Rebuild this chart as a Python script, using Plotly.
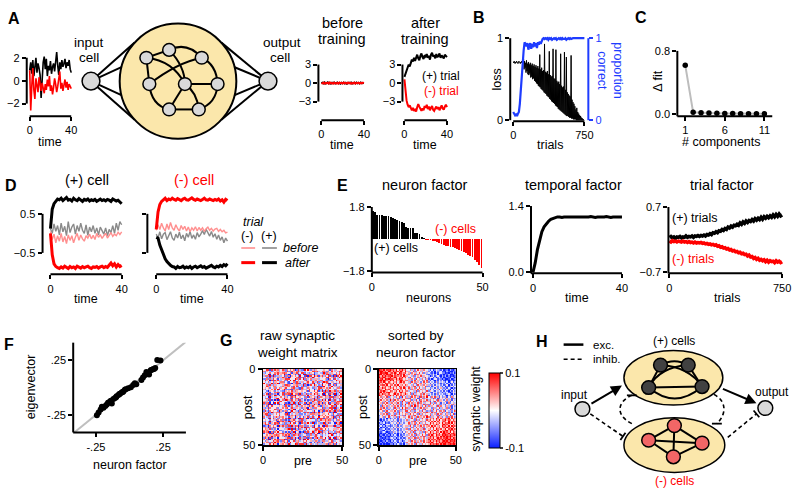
import math
import numpy as np
import plotly.graph_objects as go

# ===================== DATA =====================
time_steps = list(range(41))

# Panel A - input cell traces
a_input_pos = [0.9, 1.6, 0.6, 1.8, 0.4, 1.2, 2.0, 0.7, 1.5, 1.1, 0.5, -1.5, 0.3, 1.6, 2.1, 1.0, 1.9, 0.4, 1.3, 0.9,
               1.7, 0.6, 1.2, 1.5, 0.8, 1.9, 2.5, 1.3, 0.5, 1.6, 1.0, 1.8, 1.2, 1.5, 1.9, 1.1, 1.6, 1.3, 1.8, 1.0, 0.7]
a_input_neg = [0.9, -2.6, -0.5, 1.1, -0.8, -1.6, 0.2, -0.6, -1.0, 0.3, -0.4, -0.9, -0.2, -0.7, -1.1, -0.3, -0.8, 0.1, -0.5, 0.4,
               -0.9, -0.4, -1.2, -0.6, 0.2, -0.3, -1.0, -0.5, 0.0, 0.8, -0.7, -0.2, -0.9, -0.4, 0.1, -0.6, -0.1, -0.8, -0.3, -0.5, -0.7]
# Panel A - output before / after training
a_before_pos = [0.0, 0.08, -0.05, 0.1, -0.08, 0.05, 0.12, -0.06, 0.03, -0.1, 0.07, -0.02, 0.09, -0.07, 0.04, 0.1, -0.05, 0.02, -0.09, 0.06,
                -0.03, 0.08, -0.06, 0.05, -0.1, 0.03, 0.07, -0.04, 0.09, -0.08, 0.02, 0.06, -0.05, 0.1, -0.03, 0.04, -0.07, 0.08, -0.02, 0.05, 0.0]
a_before_neg = [0.0, -0.06, 0.09, -0.1, 0.04, -0.03, 0.07, -0.08, 0.1, -0.04, 0.02, -0.09, 0.06, 0.0, -0.07, 0.05, -0.1, 0.08, -0.02, 0.04,
                -0.06, 0.09, -0.05, 0.03, -0.08, 0.1, -0.03, 0.06, -0.09, 0.02, -0.05, 0.07, -0.1, 0.04, -0.02, 0.08, -0.06, 0.03, -0.04, 0.06, -0.02]
a_after_pos = [1.0, 1.6, 2.2, 2.4, 3.0, 2.7, 3.3, 3.8, 3.5, 4.1, 3.6, 4.3, 4.6, 4.0, 3.7, 4.4, 4.8, 4.2, 3.9, 4.5,
               4.3, 4.7, 4.1, 4.4, 3.8, 4.6, 4.9, 4.3, 4.5, 4.0, 4.7, 4.2, 4.4, 4.8, 4.1, 4.5, 4.3, 4.0, 4.6, 4.4, 4.2]
a_after_neg = [0.6, -1.5, -2.8, -3.5, -3.9, -3.6, -4.2, -4.4, -4.0, -4.5, -4.3, -4.6, -3.9, -3.4, -3.8, -4.2, -4.5, -4.1, -4.4, -3.7,
               -4.0, -3.5, -4.2, -3.8, -4.4, -4.0, -3.7, -4.3, -4.5, -4.1, -3.8, -4.2, -3.9, -4.4, -4.0, -3.6, -4.1, -4.3, -3.8, -3.5, -3.9]

# Panel B - training
loss_trials = list(range(0, 750, 5))
loss = [0.71, 0.70, 0.72, 0.70, 0.69, 0.71, 0.70, 0.72, 0.70, 0.71, 0.69, 0.70, 0.72, 0.71, 0.70, 0.69, 0.71, 0.70, 0.72, 0.70, 0.71, 0.70,
        0.74, 0.62, 0.72, 0.64, 0.70, 0.58, 0.73, 0.60, 0.69, 0.56, 0.71, 0.55, 0.68, 0.57, 0.70, 0.52, 0.67, 0.53, 0.69, 0.50,
        0.66, 0.51, 0.68, 0.48, 0.65, 0.47, 0.67, 0.45, 0.64, 0.44, 0.66, 0.42, 0.63, 0.41, 0.80, 0.40, 0.62, 0.38, 0.64, 0.37,
        0.60, 0.36, 0.61, 0.34, 0.93, 0.33, 0.59, 0.32, 0.58, 0.30, 0.60, 0.29, 0.56, 0.28, 0.84, 0.26, 0.55, 0.25, 0.53, 0.23,
        0.54, 0.22, 0.87, 0.21, 0.51, 0.20, 0.50, 0.18, 0.86, 0.17, 0.48, 0.16, 0.46, 0.14, 0.47, 0.13, 0.44, 0.12, 0.81, 0.11,
        0.42, 0.10, 0.40, 0.09, 0.41, 0.08, 0.83, 0.07, 0.37, 0.06, 0.77, 0.05, 0.34, 0.05, 0.32, 0.04, 0.30, 0.03, 0.29, 0.03,
        0.79, 0.02, 0.25, 0.02, 0.22, 0.01, 0.20, 0.01, 0.17, 0.01, 0.13, 0.00, 0.15, 0.00, 0.10, 0.00, 0.08, 0.00, 0.06, 0.00,
        0.05, 0.00, 0.03, 0.00, 0.02, 0.00, 0.01, 0.00]
prop_trials = list(range(0, 760, 10))
prop_correct = [0.10, 0.08, 0.06, 0.07, 0.05, 0.08, 0.10, 0.20, 0.38, 0.55, 0.72, 0.85, 0.95, 0.93, 0.90, 0.94, 0.86, 0.91, 0.94, 0.87,
                0.93, 0.89, 0.95, 0.90, 0.94, 0.88, 0.95, 0.92, 0.96, 0.93, 0.97, 0.99, 1.0, 0.99, 1.0, 0.99, 1.0, 0.98, 1.0, 0.99,
                1.0, 0.98, 0.99, 1.0, 0.99, 1.0, 0.98, 0.99, 1.0, 0.99, 1.0, 0.98, 1.0, 0.99, 0.99, 1.0, 0.98, 0.99, 1.0, 0.99,
                1.0, 0.99, 1.0, 1.0, 1.0, 1.0, 1.0, 1.0, 1.0, 1.0, 1.0, 1.0, 1.0, 1.0, 1.0, 1.0]

# Panel C
n_components = list(range(1, 12))
delta_fit = [0.62, 0.025, 0.02, 0.015, 0.012, 0.01, 0.01, 0.008, 0.008, 0.007, 0.006]

# Panel D - (+) cell and (-) cell activity
dp_after_pos = [0.12, 0.62, 0.76, 0.82, 0.88, 0.86, 0.9, 0.84, 0.88, 0.92, 0.85, 0.87, 0.83, 0.9, 0.86, 0.84, 0.89, 0.85, 0.82, 0.87,
                0.85, 0.88, 0.83, 0.86, 0.84, 0.87, 0.82, 0.85, 0.88, 0.84, 0.86, 0.83, 0.87, 0.85, 0.82, 0.88, 0.86, 0.83, 0.85, 0.80, 0.76]
dp_after_neg = [0.0, -0.55, -0.78, -0.85, -0.88, -0.9, -0.86, -0.89, -0.84, -0.87, -0.9, -0.85, -0.88, -0.86, -0.9, -0.84, -0.87, -0.89, -0.85, -0.88,
                -0.86, -0.84, -0.88, -0.9, -0.86, -0.87, -0.85, -0.89, -0.86, -0.84, -0.88, -0.85, -0.87, -0.8, -0.76, -0.83, -0.78, -0.86, -0.8, -0.85, -0.82]
dp_before_pos = [0.12, 0.0, 0.24, 0.05, 0.2, -0.04, 0.26, 0.04, 0.18, -0.06, 0.3, 0.02, 0.16, 0.24, -0.02, 0.2, 0.05, 0.26, 0.08, 0.0,
                 0.22, -0.05, 0.16, 0.04, 0.2, 0.0, 0.14, -0.04, 0.16, 0.06, -0.02, 0.14, -0.06, 0.1, 0.02, 0.2, 0.0, 0.26, 0.08, 0.3, 0.22]
dp_before_neg = [0.05, -0.16, -0.02, -0.24, -0.06, -0.2, 0.0, -0.22, -0.08, -0.26, -0.04, -0.18, -0.06, -0.24, -0.1, 0.0, -0.18, -0.04, -0.14, -0.2,
                 -0.06, -0.12, -0.02, -0.14, -0.05, -0.16, 0.0, -0.1, -0.03, -0.13, -0.06, 0.0, -0.12, -0.04, 0.02, -0.08, -0.02, -0.06, 0.03, -0.03, 0.04]
dn_after_neg = [0.1, 0.55, 0.74, 0.82, 0.86, 0.9, 0.84, 0.88, 0.86, 0.9, 0.87, 0.85, 0.89, 0.86, 0.84, 0.88, 0.9, 0.86, 0.85, 0.88,
                0.91, 0.87, 0.85, 0.88, 0.86, 0.84, 0.87, 0.9, 0.86, 0.85, 0.88, 0.86, 0.84, 0.87, 0.85, 0.88, 0.83, 0.86, 0.8, 0.87, 0.84]
dn_after_pos = [-0.1, -0.12, -0.3, -0.42, -0.55, -0.65, -0.72, -0.78, -0.82, -0.85, -0.86, -0.9, -0.85, -0.88, -0.87, -0.84, -0.89, -0.86, -0.88, -0.85,
                -0.9, -0.86, -0.84, -0.88, -0.86, -0.83, -0.87, -0.85, -0.89, -0.86, -0.84, -0.82, -0.86, -0.88, -0.84, -0.86, -0.82, -0.85, -0.8, -0.83, -0.78]
dn_before_neg = [0.08, 0.22, 0.1, 0.26, 0.14, 0.06, 0.24, 0.1, 0.28, 0.14, 0.08, 0.22, 0.12, 0.06, 0.2, 0.1, 0.18, 0.06, 0.16, 0.04,
                 0.14, 0.08, 0.17, 0.06, 0.15, 0.08, 0.14, 0.05, 0.12, 0.16, 0.08, 0.13, 0.06, 0.11, 0.13, 0.05, 0.1, 0.04, 0.08, 0.01, 0.03]
dn_before_pos = [-0.02, -0.12, 0.04, -0.14, -0.02, 0.02, -0.16, -0.04, 0.04, -0.12, -0.18, -0.02, -0.12, 0.03, -0.14, -0.04, -0.19, 0.0, -0.1, 0.05,
                 -0.13, -0.04, -0.15, 0.02, -0.09, -0.02, 0.07, -0.03, 0.1, 0.02, -0.07, 0.05, -0.1, -0.01, -0.15, -0.04, -0.18, -0.09, -0.24, -0.12, -0.2]

# Panel E - tensor decomposition factors
neuron_factor = [1.55, 1.50, 1.36, 1.34, 1.33, 1.31, 1.30, 1.28, 1.26, 1.17, 1.13, 1.10, 1.02, 0.95, 0.88, 0.66, 0.64, 0.63, 0.61, 0.35,
                 0.33, 0.30, 0.12, 0.08,
                 -0.02, -0.03, -0.05, -0.08, -0.10, -0.14, -0.20, -0.25, -0.30, -0.36, -0.40, -0.42, -0.46, -0.50, -0.55, -0.60,
                 -0.66, -0.70, -0.78, -0.86, -0.92, -1.00, -1.15, -1.30, -1.45, -1.60]
neuron_ids = list(range(50))
temporal_factor = [0.0, 0.2, 0.48, 0.7, 0.86, 0.96, 1.03, 1.08, 1.12, 1.14, 1.16, 1.17, 1.17, 1.16, 1.17, 1.17, 1.16, 1.17, 1.17, 1.16,
                   1.17, 1.16, 1.17, 1.17, 1.16, 1.17, 1.18, 1.17, 1.16, 1.17, 1.17, 1.16, 1.17, 1.18, 1.17, 1.16, 1.17, 1.17, 1.16, 1.17, 1.17]
tf_trials = list(range(0, 760, 10))
trial_factor_pos = [0.05, 0.07, 0.04, 0.06, 0.03, 0.06, 0.05, 0.07, 0.04, 0.06, 0.05, 0.08, 0.05, 0.07, 0.06, 0.08, 0.05, 0.08, 0.07, 0.09,
                    0.07, 0.09, 0.08, 0.10, 0.08, 0.11, 0.10, 0.13, 0.11, 0.15, 0.14, 0.17, 0.15, 0.19, 0.18, 0.22, 0.20, 0.24, 0.22, 0.27,
                    0.25, 0.29, 0.27, 0.31, 0.30, 0.33, 0.31, 0.36, 0.33, 0.38, 0.35, 0.40, 0.37, 0.41, 0.39, 0.43, 0.40, 0.45, 0.42, 0.46,
                    0.43, 0.48, 0.44, 0.49, 0.46, 0.50, 0.47, 0.51, 0.48, 0.53, 0.49, 0.54, 0.50, 0.55, 0.51, 0.53]
trial_factor_neg = [-0.03, -0.05, -0.02, -0.04, -0.03, -0.05, -0.03, -0.04, -0.05, -0.03, -0.05, -0.04, -0.06, -0.04, -0.06, -0.05, -0.07, -0.05, -0.07, -0.06,
                    -0.07, -0.06, -0.08, -0.07, -0.09, -0.08, -0.10, -0.09, -0.11, -0.10, -0.12, -0.11, -0.14, -0.13, -0.16, -0.15, -0.18, -0.17, -0.20, -0.19,
                    -0.22, -0.21, -0.24, -0.23, -0.26, -0.25, -0.28, -0.27, -0.30, -0.29, -0.32, -0.31, -0.35, -0.33, -0.37, -0.36, -0.40, -0.38, -0.42, -0.40,
                    -0.44, -0.42, -0.45, -0.43, -0.47, -0.44, -0.48, -0.45, -0.47, -0.46, -0.49, -0.45, -0.48, -0.46, -0.49, -0.47]

# Panel F
f_neuron_factor = [-0.243, -0.23, -0.215, -0.206, -0.194, -0.18, -0.169, -0.16, -0.152, -0.14, -0.132, -0.12, -0.108, -0.10, -0.096, -0.083,
                   -0.075, -0.071, -0.059, -0.05, -0.047, -0.035, -0.029, -0.01, 0.01, 0.027, 0.039, 0.05, 0.088, 0.10, 0.113, 0.125,
                   0.137, 0.145, 0.157, 0.165, 0.174, 0.182, 0.191, 0.206, 0.23]
f_eigenvector = [-0.253, -0.229, -0.2, -0.176, -0.185, -0.17, -0.155, -0.14, -0.134, -0.12, -0.146, -0.104, -0.095, -0.09, -0.08, -0.068,
                 -0.06, -0.057, -0.045, -0.04, -0.036, -0.02, -0.015, -0.006, 0.003, 0.024, 0.039, 0.03, 0.068, 0.092, 0.113, 0.143,
                 0.128, 0.12, 0.158, 0.162, 0.167, 0.17, 0.179, 0.253, 0.247]

# Panel G - synaptic weights (sorted by neuron factor); digit d -> weight (d-4.5)/45
weights_sorted_rows = [
    "98796889 7869587968 45736258463754 3140253214 01203102",
    "89978698 6978869759 63548274536546 2413052341 10310021",
    "79889967 8697598678 56274635847263 4213031542 20102130",
    "99687989 7586978695 37465827364552 1325240312 02130012",
    "86979788 9687768597 64537246583645 3024135203 13020101",
    "97898679 6798587968 52846357246384 2451302413 01210320",
    "78969898 8769698756 46375284637526 1302451320 20013012",
    "89798769 7958679867 73625846352748 3142031524 10201201",
    "78697586 5768479685 46285736425847 2534162435 31402513",
    "86759877 6948576574 53746285374625 4152342613 24130241",
    "67886957 7586946758 64537428563746 3625143524 12503142",
    "95768679 4768597486 37462853746582 2413562431 40213524",
    "76978568 6857468597 58364725846374 5234152463 23142031",
    "87659786 5976857648 46273648573625 3152436142 31520413",
    "68797658 7468596857 73546382746538 2643153425 14203152",
    "79586897 6587469768 45836274658374 4215342631 32410253",
    "86977685 5796847569 64728364573846 3524162534 21352041",
    "97658779 6849758674 36475826374658 1435253142 42031325",
    "57364826 4637582947 36285746183759 5274836152 36152734",
    "64857362 5746283657 72846351847263 4638251746 52634172",
    "38465739 6285746385 45726385174658 3746528364 24736153",
    "75638427 3857462947 63847526384726 6152847365 47261534",
    "46275836 7463852746 28573648275364 5836274615 35172463",
    "63748562 4857362849 57362847563827 2748563725 61534726",
    "52864735 6374852637 46285937462583 7364528374 42637152",
    "47385263 5286374958 73648256384736 4527364836 53726143",
    "68457324 3748562738 36472853647285 5638472536 26351742",
    "35726846 6485273648 84736254738462 3726485274 71536248",
    "53648275 4736285746 27463857364728 6483725638 34726153",
    "46375823 5627384657 63857462837465 4735628473 52637481",
    "24756384 7385463728 47362846573628 5836472835 63748256",
    "35627483 4637285463 58374628364759 7263548362 46273852",
    "31425031 3524163542 46385274638562 5768497586 68795867",
    "20314253 4253162435 73546283746538 6857486957 79687586",
    "42031324 2635142534 36472856473625 7586958647 87596878",
    "13240213 5342613524 58364725836474 4968576859 68796957",
    "31302541 3425136245 47263857463728 6857697458 97867586",
    "24130321 2536142356 63847256384756 7596846759 78695978",
    "40213142 4152634253 35627485367246 5869576847 86978695",
    "12340213 3624152436 72846357463825 6748597685 69587968",
    "32104231 5243162534 46375826374654 8576968457 78969786",
    "21342012 2635243152 64738254637286 5967487596 97869587",
    "10210301 2413032415 57364825736485 7869786958 98796898",
    "02103120 3142051324 36475283648572 8697597869 89879789",
    "10320102 1324132053 64738256473826 6978687597 97989867",
    "21010213 4230241312 47365827364753 7869579786 88979698",
    "01302101 2513023142 53847264835746 9687868979 79898979",
    "10120310 3142153024 46285736473856 7968697868 98979889",
    "02013021 1324032413 75364827365847 8797586979 89898798",
    "10201002 2031421304 36475284637465 6978798697 99789899",
]
# original neuron id of each sorted position
neuron_order = [17, 3, 41, 28, 9, 35, 22, 46, 0, 13, 31, 7, 44, 19, 26, 38, 5, 48, 11, 33, 24, 2, 40, 15, 29,
                8, 36, 21, 47, 12, 1, 43, 30, 18, 6, 39, 25, 49, 14, 34, 10, 27, 45, 4, 37, 20, 32, 16, 42, 23]

# ===================== HELPERS =====================
W, H = 800, 496
FONT = "Liberation Sans, Arial, Helvetica, sans-serif"
RED = "#ff0000"
PINK = "#ff8f8f"
GRAY = "#8a8a8a"
BLUE = "#1e3cff"
YELLOW = "#fbe7ab"
NODE = "#d9d9d9"


def X(p):
    return p / W


def Y(p):
    return 1 - p / H


def lin(m, p):
    v0, p0, v1, p1 = m
    return v0 + (p - p0) * (v1 - v0) / (p1 - p0)


def pix(m, v):
    v0, p0, v1, p1 = m
    return p0 + (v - v0) * (p1 - p0) / (v1 - v0)


def xk(i):
    return "xaxis" if i == 1 else f"xaxis{i}"


def yk(i):
    return "yaxis" if i == 1 else f"yaxis{i}"


def xid(i):
    return "x" if i == 1 else f"x{i}"


def yid(i):
    return "y" if i == 1 else f"y{i}"


fig = go.Figure()
axes = {}
shapes = []
annots = []

AXBASE = dict(showline=False, showgrid=False, zeroline=False, ticks="outside", ticklen=4, tickwidth=2,
              tickcolor="black", tickfont=dict(family=FONT, size=11, color="black"), fixedrange=True)


def seg(x0, y0, x1, y1, color="black", width=2, dash=None):
    ln = dict(color=color, width=width)
    if dash:
        ln["dash"] = dash
    shapes.append(dict(type="line", xref="paper", yref="paper", x0=X(x0), y0=Y(y0), x1=X(x1), y1=Y(y1), line=ln))


def panel(ix, iy, xm, xl, xr, ym, yt, yb, xtv, xtt, ytv, ytt, xsp, ysp):
    ax = dict(AXBASE)
    ax.update(domain=[X(xl), X(xr)], range=[lin(xm, xl), lin(xm, xr)], anchor=yid(iy), tickvals=xtv, ticktext=xtt)
    ay = dict(AXBASE)
    ay.update(domain=[Y(yb), Y(yt)], range=[lin(ym, yb), lin(ym, yt)], anchor=xid(ix), tickvals=ytv, ticktext=ytt)
    axes[xk(ix)] = ax
    axes[yk(iy)] = ay
    if xsp:
        a = xl if xsp[0] is None else pix(xm, xsp[0])
        b = xr if xsp[1] is None else pix(xm, xsp[1])
        seg(a, yb, b, yb)
    if ysp:
        a = yb if ysp[0] is None else pix(ym, ysp[0])
        b = yt if ysp[1] is None else pix(ym, ysp[1])
        seg(xl, a, xl, b)


def line_tr(x, y, ix, iy, color, width):
    fig.add_trace(go.Scatter(x=x, y=y, mode="lines", line=dict(color=color, width=width),
                             xaxis=xid(ix), yaxis=yid(iy), showlegend=False, hoverinfo="skip"))


def text(x, y, s, size=12.5, color="black", angle=0, xanchor="center"):
    annots.append(dict(x=X(x), y=Y(y), xref="paper", yref="paper", text=s, showarrow=False,
                       font=dict(family=FONT, size=size, color=color), textangle=angle,
                       xanchor=xanchor, yanchor="middle"))


def circle(cx, cy, rx, ry=None, fill=NODE, lw=1.5):
    ry = rx if ry is None else ry
    shapes.append(dict(type="circle", xref="paper", yref="paper", x0=X(cx - rx), x1=X(cx + rx),
                       y0=Y(cy + ry), y1=Y(cy - ry), fillcolor=fill, line=dict(color="black", width=lw)))


def qcurve(p0, c, p1, width=2, dash=None):
    ln = dict(color="black", width=width)
    if dash:
        ln["dash"] = dash
    shapes.append(dict(type="path", xref="paper", yref="paper",
                       path=f"M{X(p0[0])},{Y(p0[1])} Q{X(c[0])},{Y(c[1])} {X(p1[0])},{Y(p1[1])}", line=ln))


def arrow(p0, p1):
    annots.append(dict(x=X(p1[0]), y=Y(p1[1]), xref="paper", yref="paper", ax=p0[0] - p1[0], ay=p0[1] - p1[1],
                       axref="pixel", ayref="pixel", showarrow=True, arrowhead=2, arrowsize=1.1, arrowwidth=2,
                       arrowcolor="black", text="", standoff=0, startstandoff=0))


def tbar(p, d, half=4.5):
    n = math.hypot(d[0], d[1])
    ux, uy = -d[1] / n * half, d[0] / n * half
    seg(p[0] - ux, p[1] - uy, p[0] + ux, p[1] + uy, width=1.8)


MINUS = "\u2212"

# ===================== PANEL A =====================
panel(1, 1, (0, 27, 40, 69), 24, 71, (2, 53, -2, 100), 43, 113,
      [0, 40], ["0", "40"], [-2, 0, 2], [MINUS + "2", "0", "2"], (0, 40), (-2, 2))
line_tr(time_steps, a_input_pos, 1, 1, "black", 1.6)
line_tr(time_steps, a_input_neg, 1, 1, RED, 1.6)

panel(2, 2, (0, 322, 40, 365), 319, 367, (3, 60, -3, 98), 42, 117,
      [0, 40], ["0", "40"], [-3, 0, 3], [MINUS + "3", "0", "3"], (0, 40), (-3, 3))
line_tr(time_steps, a_before_pos, 2, 2, "black", 2)
line_tr(time_steps, a_before_neg, 2, 2, RED, 2)

panel(3, 3, (0, 406, 40, 449), 404, 451, (3, 60, -3, 98), 42, 117,
      [0, 40], ["0", "40"], [-3, 0, 3], [MINUS + "3", "0", "3"], (0, 40), (-3, 3))
line_tr(time_steps, a_after_pos, 3, 3, "black", 2)
line_tr(time_steps, a_after_neg, 3, 3, RED, 2)

# network diagram
BIG = (177, 77, 59)
IN_A = (89, 77, 9)
OUT_A = (268, 77, 9)
for ang in (138, 166, 194, 222):
    t = math.radians(ang)
    seg(IN_A[0], IN_A[1], BIG[0] + BIG[2] * math.cos(t), BIG[1] + BIG[2] * math.sin(t))
    t2 = math.radians(180 - ang)
    seg(OUT_A[0], OUT_A[1], BIG[0] + BIG[2] * math.cos(t2), BIG[1] + BIG[2] * math.sin(t2))
circle(BIG[0], BIG[1], BIG[2], fill=YELLOW, lw=2)
an = {1: (145, 53), 2: (168, 45), 3: (201, 53), 4: (148, 80), 5: (184, 80), 6: (217, 80), 7: (168, 106), 8: (198, 106)}
a_edges = [(1, 2, None), (2, 3, (186, 36)), (1, 4, None), (3, 6, (216, 60)), (1, 5, (172, 56)), (4, 3, (176, 58)),
           (2, 5, (184, 62)), (5, 6, None), (5, 7, None), (5, 8, (196, 88)), (4, 7, (150, 102)), (7, 8, None),
           (6, 8, (216, 100))]
for a, b, c in a_edges:
    if c is None:
        seg(an[a][0], an[a][1], an[b][0], an[b][1])
    else:
        qcurve(an[a], c, an[b])
for k, (x, y) in an.items():
    circle(x, y, 6.5)
circle(*IN_A)
circle(*OUT_A)

text(87, 37, "input", 13.5)
text(87, 53, "cell", 13.5)
text(282, 37, "output", 13.5)
text(280, 53, "cell", 13.5)
text(48, 139, "time")
text(343, 17, "before", 14.5)
text(343, 34, "training", 14.5)
text(427, 17, "after", 14.5)
text(427, 34, "training", 14.5)
text(343, 142, "time")
text(427, 142, "time")
text(443, 72, "(+) trial", 12)
text(443, 87, "(-) trial", 12, RED)

# ===================== PANEL B =====================
panel(4, 4, (0, 516, 750, 588), 513, 592, (1, 33, 0, 117), 28, 118,
      [0, 750], ["0", "750"], [0, 1], ["0", "1"], (0, 750), (0, 1))
ay5 = dict(AXBASE)
ay5.update(overlaying="y4", side="right", anchor="x4", range=axes["yaxis4"]["range"], tickvals=[0, 1],
           ticktext=["0", "1"], tickcolor=BLUE, tickfont=dict(family=FONT, size=11, color=BLUE))
axes["yaxis5"] = ay5
seg(592, 33, 592, 117, color=BLUE)
fig.add_trace(go.Scatter(x=loss_trials, y=loss, mode="lines", line=dict(color="black", width=1),
                         xaxis="x4", yaxis="y4", showlegend=False, hoverinfo="skip"))
fig.add_trace(go.Scatter(x=prop_trials, y=prop_correct, mode="lines", line=dict(color=BLUE, width=2.2),
                         xaxis="x4", yaxis="y5", showlegend=False, hoverinfo="skip"))
text(500, 75, "loss", angle=-90)
text(553, 142, "trials")
text(614, 66, "proportion<br>correct", 12.5, BLUE, angle=90)

# ===================== PANEL C =====================
panel(5, 6, (1, 690, 11, 770), 682, 778, (0.8, 46, 0, 111), 40, 113,
      [1, 6, 11], ["1", "6", "11"], [0, 0.8], ["0.0", "0.8"], (None, None), (None, 0.8))
fig.add_trace(go.Scatter(x=n_components, y=delta_fit, mode="lines+markers", line=dict(color="#bdbdbd", width=2),
                         marker=dict(color="black", size=5.5), xaxis="x5", yaxis="y6", showlegend=False,
                         hoverinfo="skip", cliponaxis=False))
text(663, 77, "\u0394 fit", angle=-90)
text(727, 139, "# components")

# ===================== PANEL D =====================
panel(6, 7, (0, 48, 40, 120), 40, 124, (0.5, 213, -0.5, 253), 190, 275,
      [0, 40], ["0", "40"], [-0.5, 0.5], [MINUS + "0.5", "0.5"], (0, 40), (-0.5, 0.5))
line_tr(time_steps, dp_before_pos, 6, 7, GRAY, 1.4)
line_tr(time_steps, dp_before_neg, 6, 7, PINK, 1.4)
line_tr(time_steps, dp_after_pos, 6, 7, "black", 3)
line_tr(time_steps, dp_after_neg, 6, 7, RED, 3)

panel(7, 8, (0, 155, 40, 227), 146, 231, (0.5, 213, -0.5, 253), 190, 275,
      [0, 40], ["0", "40"], [-0.5, 0.5], ["", ""], (0, 40), (-0.5, 0.5))
line_tr(time_steps, dn_before_pos, 7, 8, GRAY, 1.4)
line_tr(time_steps, dn_before_neg, 7, 8, PINK, 1.4)
line_tr(time_steps, dn_after_pos, 7, 8, "black", 3)
line_tr(time_steps, dn_after_neg, 7, 8, RED, 3)

text(85, 178, "(+) cell", 14.5)
text(193, 178, "(-) cell", 14.5, RED)
text(84, 300, "time")
text(191, 300, "time")
text(253, 221, "<i>trial</i>", 12.5)
text(247, 236, "(-)", 12.5)
text(269, 236, "(+)", 12.5)
seg(241, 248, 255, 248, color=PINK, width=1.6)
seg(262, 248, 277, 248, color=GRAY, width=1.6)
seg(241, 263, 255, 263, color=RED, width=3)
seg(262, 263, 277, 263, color="black", width=3)
text(301, 248, "<i>before</i>", 12.5)
text(298, 263, "<i>after</i>", 12.5)

# ===================== PANEL E =====================
panel(8, 9, (0, 373, 50, 485), 373, 488, (1.8, 206, -1.8, 272), 200, 273,
      [0, 50], ["0", "50"], [-1.8, 1.8], [MINUS + "1.8", "1.8"], (0, 50), (None, 1.8))
fig.add_trace(go.Bar(x=[i + 0.5 for i in neuron_ids], y=neuron_factor,
                     marker=dict(color=["black" if v > 0 else RED for v in neuron_factor], line=dict(width=0)),
                     width=0.82, xaxis="x8", yaxis="y9", showlegend=False, hoverinfo="skip"))
panel(9, 10, (0, 536, 40, 626), 534, 628, (1.4, 205, 0, 273), 200, 274,
      [0, 40], ["0", "40"], [0, 1.4], ["0.0", "1.4"], (None, 40), (None, 1.4))
line_tr(time_steps, temporal_factor, 9, 10, "black", 3)
panel(10, 11, (0, 674, 750, 788), 673, 792, (0.7, 206, -0.7, 273), 200, 274,
      [0, 750], ["0", "750"], [-0.7, 0.7], [MINUS + "0.7", "0.7"], (None, 750), (None, 0.7))
line_tr(tf_trials, trial_factor_pos, 10, 11, "black", 3.5)
line_tr(tf_trials, trial_factor_neg, 10, 11, RED, 3.5)

text(427, 183, "neuron factor", 14.5)
text(577, 183, "temporal factor", 14.5)
text(727, 183, "trial factor", 14.5)
text(397, 248, "(+) cells")
text(458, 229, "(-) cells", 12.5, RED)
text(430, 299, "neurons")
text(581, 299, "time")
text(732, 299, "trials")
text(700, 217, "(+) trials")
text(698, 259, "(-) trials", 12.5, RED)

# ===================== PANEL F =====================
f_xm = (-0.25, 94, 0.25, 162)
panel(11, 12, f_xm, 71, 185, (0.25, 363, -0.25, 419), 345, 437,
      [-0.25, 0.25], ["-.25", ".25"], [-0.25, 0.25], ["-.25", ".25"], (None, None), (None, None))
diag = [lin(f_xm, 71), lin(f_xm, 185)]
line_tr(diag, diag, 11, 12, "#bfbfbf", 2)
fig.add_trace(go.Scatter(x=f_neuron_factor, y=f_eigenvector, mode="markers", marker=dict(color="black", size=6),
                         xaxis="x11", yaxis="y12", showlegend=False, hoverinfo="skip"))
text(28, 390, "eigenvector", angle=-90)
text(128, 470, "neuron factor")

# ===================== PANEL G =====================
w_sorted = np.array([[int(ch) for ch in r.replace(" ", "")] for r in weights_sorted_rows], dtype=float)
w_sorted = (w_sorted - 4.5) / 45.0
order = np.array(neuron_order)
w_raw = np.empty_like(w_sorted)
w_raw[np.ix_(order, order)] = w_sorted
cells = [i + 0.5 for i in range(50)]
CSCALE = [[0, "#0a1eff"], [0.5, "#ffffff"], [1, "#ff0000"]]
for ix, iy, xl, xr, z, show in ((12, 13, 263, 343, w_raw, False), (13, 14, 380, 458, w_sorted, True)):
    panel(ix, iy, (0, xl, 50, xr), xl, xr, (0, 372, 50, 450), 372, 450,
          [0, 50], ["0", "50"], [0, 50], ["0", "50"], None, None)
    for key in (xk(ix), yk(iy)):
        axes[key].update(showline=True, mirror=True, linecolor="black", linewidth=1.5)
    hm = dict(z=z, x=cells, y=cells, colorscale=CSCALE, zmin=-0.1, zmax=0.1, xaxis=xid(ix), yaxis=yid(iy),
              showscale=show, hoverinfo="skip")
    if show:
        hm["colorbar"] = dict(x=X(492), xanchor="left", y=Y(414.5), yanchor="middle", len=77 / H, lenmode="fraction",
                              thickness=11, thicknessmode="pixels", outlinewidth=1, outlinecolor="black",
                              tickvals=[-0.1, 0.1], ticktext=["-0.1", "0.1"], ticks="outside", ticklen=3,
                              tickwidth=1.5, tickfont=dict(family=FONT, size=11), xpad=0, ypad=0)
    fig.add_trace(go.Heatmap(**hm))
text(298, 338, "raw synaptic", 13.5)
text(298, 355, "weight matrix", 13.5)
text(418, 338, "sorted by", 13.5)
text(418, 355, "neuron factor", 13.5)
text(248, 411, "post", angle=-90)
text(364, 411, "post", angle=-90)
text(303, 466, "pre")
text(420, 466, "pre")
text(478, 413, "synaptic weight", angle=-90)

# ===================== PANEL H =====================
circle(678, 381, 50, 28, fill=YELLOW, lw=1.5)
circle(679, 450, 51, 28, fill=YELLOW, lw=1.5)
tn = {1: (665, 368), 2: (693, 368), 3: (653, 391), 4: (707, 390)}
qcurve(tn[1], (679, 360), tn[2])
seg(*tn[1], *tn[3])
seg(*tn[2], *tn[4])
seg(*tn[3], *tn[4])
qcurve(tn[1], (694, 370), tn[4])
qcurve(tn[2], (664, 370), tn[3])
qcurve(tn[3], (680, 414), tn[4])
for k, (x, y) in tn.items():
    circle(x, y, 7, fill="#414141")
bn = {1: (679, 430), 2: (653, 445), 3: (707, 448), 4: (678, 462)}
for a, b in ((1, 2), (1, 3), (1, 4), (2, 3), (2, 4), (4, 3)):
    seg(*bn[a], *bn[b])
for k, (x, y) in bn.items():
    circle(x, y, 7, fill="#f26666")
circle(586, 413, 7.5)
circle(771, 412, 7.5)
arrow((594, 408), (626, 389))
arrow((727, 392), (762, 407))
seg(594, 418, 627, 441, dash="4px,3px", width=1.6)
tbar((627, 441), (33, 23))
shapes.append(dict(type="path", xref="paper", yref="paper", line=dict(color="black", width=1.6, dash="4px,3px"),
                   path=f"M{X(636)},{Y(428)} C{X(620)},{Y(420)} {X(620)},{Y(406)} {X(636)},{Y(399)}"))
tbar((636, 399), (0, 1), 5)
shapes.append(dict(type="path", xref="paper", yref="paper", line=dict(color="black", width=1.6, dash="4px,3px"),
                   path=f"M{X(719)},{Y(398)} C{X(732)},{Y(405)} {X(732)},{Y(418)} {X(722)},{Y(428)}"))
tbar((722, 428), (0, 1), 5)
seg(733, 442, 762, 418, dash="4px,3px", width=1.6)
tbar((762, 418), (29, -24))
seg(567, 347, 587, 347, width=2.5)
seg(567, 362, 587, 362, width=1.6, dash="4px,3px")
text(595, 347, "exc.", 11.5, xanchor="left")
text(595, 362, "inhib.", 11.5, xanchor="left")
text(679, 343, "(+) cells", 12)
text(679, 487, "(-) cells", 12, RED)
text(578, 399, "input", 12)
text(778, 396, "output", 12)

# ===================== PANEL LETTERS =====================
for lab, x, y in (("A", 11, 13), ("B", 481, 12), ("C", 645, 12), ("D", 8, 184), ("E", 343, 184),
                  ("F", 6, 347), ("G", 226, 343), ("H", 545, 344)):
    text(x, y, f"<b>{lab}</b>", 16)

fig.update_layout(width=W, height=H, margin=dict(l=0, r=0, t=0, b=0), paper_bgcolor="white",
                  plot_bgcolor="rgba(0,0,0,0)", font=dict(family=FONT, color="black"),
                  showlegend=False, shapes=shapes, annotations=annots, bargap=0, **axes)
fig.write_html("out.html", config={"displayModeBar": False, "staticPlot": True},
               post_script="document.body.style.margin='0px';document.body.style.overflow='hidden';")
